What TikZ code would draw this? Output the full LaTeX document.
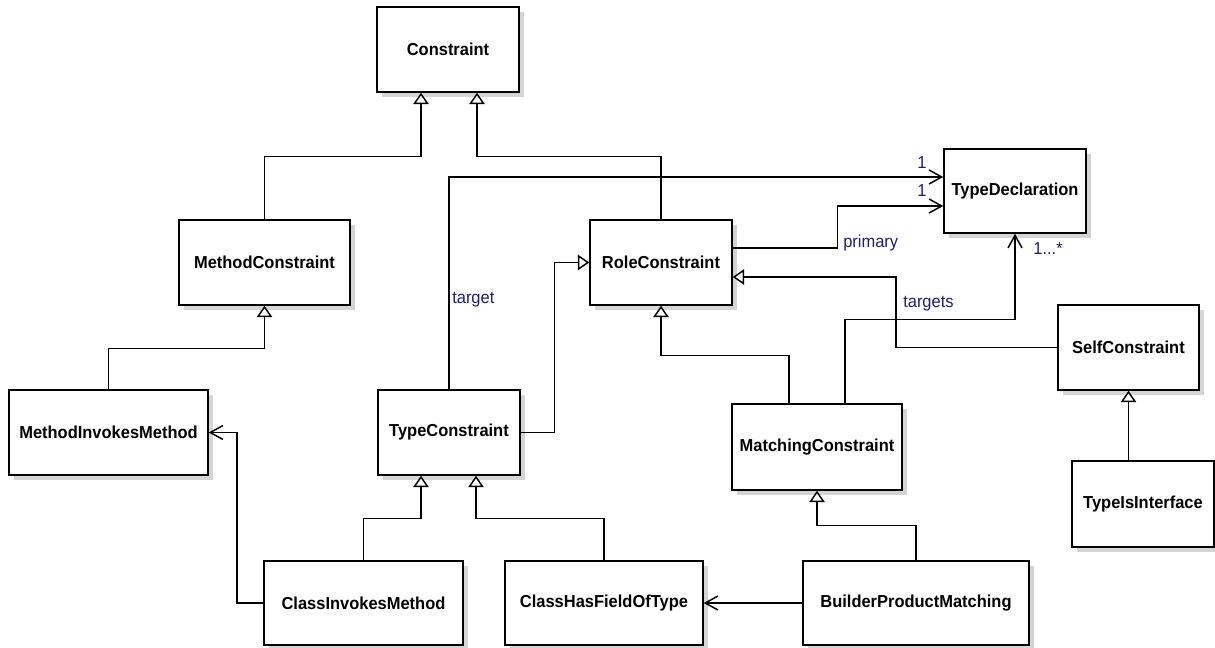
\documentclass[tikz,border=0pt]{standalone}
\usepackage{fontspec}
\setmainfont{Liberation Sans}[FakeStretch=0.95]
\usetikzlibrary{arrows.meta,calc,shadows}
\definecolor{labelink}{RGB}{30,30,105}
\definecolor{shadowgray}{RGB}{212,212,212}
\tikzset{
  cls/.style={draw=black, fill=white, line width=1.15pt, inner sep=0pt,
    font=\fontsize{13}{15}\selectfont\bfseries,
    drop shadow={shadow xshift=3.5pt, shadow yshift=-3.5pt, fill=shadowgray, opacity=1}},
  link/.style={draw=black, line width=1.1pt},
  gen/.style={link, -{Triangle[length=8.5pt, width=11.5pt, fill=white]}},
  assoc/.style={link, -{Straight Barb[length=9.5pt, width=10.5pt]}},
  lbl/.style={text=labelink, font=\fontsize{13}{15}\selectfont, inner sep=0pt},
}
\begin{document}
\begin{tikzpicture}[x=0.75pt, y=-0.75pt]
\useasboundingbox (0,0) rectangle (1215,648);

% classes
\node[cls, minimum width=106.5pt,  minimum height=63.75pt] (Constraint)      at (448,49.5)   {Constraint};
\node[cls, minimum width=128.25pt, minimum height=63.75pt] (MethodConstraint) at (264.5,262.5) {MethodConstraint};
\node[cls, minimum width=106.5pt,  minimum height=63.75pt] (RoleConstraint)  at (661,262.5)  {RoleConstraint};
\node[cls, minimum width=106.5pt,  minimum height=63pt]    (TypeDeclaration) at (1015,191)   {TypeDeclaration};
\node[cls, minimum width=105.75pt, minimum height=63.75pt] (SelfConstraint)  at (1128.5,347.5) {SelfConstraint};
\node[cls, minimum width=149.25pt, minimum height=63.75pt] (MethodInvokesMethod) at (108.5,432.5) {MethodInvokesMethod};
\node[cls, minimum width=106.5pt,  minimum height=63.75pt] (TypeConstraint)  at (449,432.5)  {TypeConstraint};
\node[cls, minimum width=127.5pt,  minimum height=64.5pt]  (MatchingConstraint) at (817,447) {MatchingConstraint};
\node[cls, minimum width=106.5pt,  minimum height=64.5pt]  (TypeIsInterface) at (1143,504)   {TypeIsInterface};
\node[cls, minimum width=149.25pt, minimum height=63pt]    (ClassInvokesMethod) at (363.5,603) {ClassInvokesMethod};
\node[cls, minimum width=148.5pt,  minimum height=63pt]    (ClassHasFieldOfType) at (604,603) {ClassHasFieldOfType};
\node[cls, minimum width=169.5pt,  minimum height=63pt]    (BuilderProductMatching) at (916,603) {BuilderProductMatching};

% generalizations
\draw[gen] (MethodConstraint.north) |- ($(Constraint.south)+(-27,64)$) -- ($(Constraint.south)+(-27,0)$);
\draw[gen] (RoleConstraint.north) |- ($(Constraint.south)+(29,64)$) -- ($(Constraint.south)+(29,0)$);
\draw[gen] (MethodInvokesMethod.north) |- ($(MethodConstraint.south)+(0,43)$) -- (MethodConstraint.south);
\draw[gen] (TypeConstraint.east) -| ($(RoleConstraint.west)+(-35,0)$) -- (RoleConstraint.west);
\draw[gen] (SelfConstraint.west) -| ($(RoleConstraint.east)+(163,14.5)$) -- ($(RoleConstraint.east)+(0,14.5)$);
\draw[gen] ($(MatchingConstraint.north)+(-28,0)$) |- ($(RoleConstraint.south)+(0,50)$) -- (RoleConstraint.south);
\draw[gen] (SelfConstraint.south |- TypeIsInterface.north) -- (SelfConstraint.south);
\draw[gen] (ClassInvokesMethod.north) |- ($(TypeConstraint.south)+(-28,43)$) -- ($(TypeConstraint.south)+(-28,0)$);
\draw[gen] (ClassHasFieldOfType.north) |- ($(TypeConstraint.south)+(27,43)$) -- ($(TypeConstraint.south)+(27,0)$);
\draw[gen] (BuilderProductMatching.north) |- ($(MatchingConstraint.south)+(0,35)$) -- (MatchingConstraint.south);

% associations
\draw[assoc] (TypeConstraint.north) |- ($(TypeDeclaration.west)+(0,-14)$);
\draw[assoc] ($(RoleConstraint.east)+(0,-14.5)$) -| ($(TypeDeclaration.west)+(-106,15)$) -- ($(TypeDeclaration.west)+(0,15)$);
\draw[assoc] ($(MatchingConstraint.north)+(28,0)$) |- ($(TypeDeclaration.south)+(0,86)$) -- (TypeDeclaration.south);
\draw[assoc] (BuilderProductMatching.west) -- (ClassHasFieldOfType.east);
\draw[assoc] (ClassInvokesMethod.west) -| ($(MethodInvokesMethod.east)+(28,0)$) -- (MethodInvokesMethod.east);

% role names and multiplicities
\node[lbl, anchor=west] (targetLabel)  at (452,300) {target};
\node[lbl] (targetMult)  at (922,163) {1};
\node[lbl] (primaryMult) at (922,191) {1};
\node[lbl, anchor=west] (primaryLabel) at (843,243) {primary};
\node[lbl, anchor=west] (targetsLabel) at (903,304) {targets};
\node[lbl] (targetsMult) at (1048,249) {1...*};
\end{tikzpicture}
\end{document}
